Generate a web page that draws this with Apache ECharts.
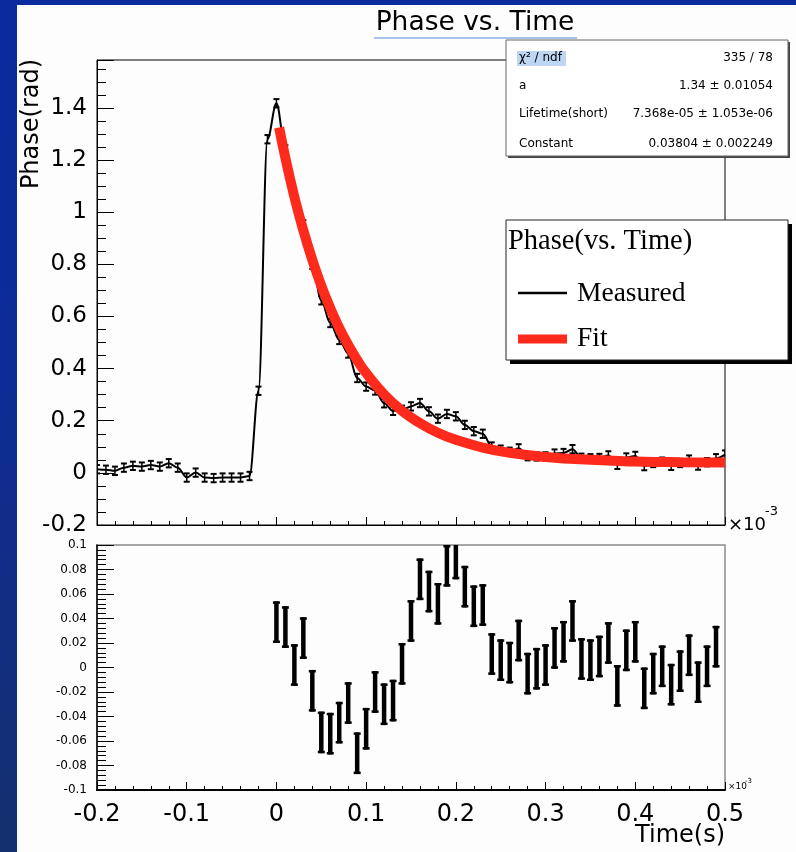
<!DOCTYPE html>
<html><head><meta charset="utf-8">
<script src="https://cdn.jsdelivr.net/npm/echarts@6/dist/echarts.min.js"></script>
<style>
html,body{margin:0;padding:0;}
body{width:796px;height:852px;overflow:hidden;position:relative;background:linear-gradient(to bottom,#0a2a9e 0%,#0d2c96 45%,#15306e 100%);}
#paper{position:absolute;left:17px;top:5px;width:779px;height:847px;background:#fdfdfd;}
#chart{position:absolute;left:0;top:0;width:796px;height:852px;}
</style></head><body><div id="paper"></div><div id="chart"></div>
<script>
// ---- data (time axis in units of 1e-3 s) ----
const tMeas = [-0.20,-0.19,-0.18,-0.17,-0.16,-0.15,-0.14,-0.13,-0.12,-0.11,-0.10,-0.09,-0.08,-0.07,-0.06,-0.05,-0.04,-0.03,-0.02,-0.01,
  0.00,0.01,0.02,0.03,0.04,0.05,0.06,0.07,0.08,0.09,0.10,0.11,0.12,0.13,0.14,0.15,0.16,0.17,0.18,0.19,
  0.20,0.21,0.22,0.23,0.24,0.25,0.26,0.27,0.28,0.29,0.30,0.31,0.32,0.33,0.34,0.35,0.36,0.37,0.38,0.39,
  0.40,0.41,0.42,0.43,0.44,0.45,0.46,0.47,0.48,0.49,0.50];
const phaseMeas = [0.014,0.012,0.008,0.020,0.027,0.024,0.030,0.024,0.037,0.020,-0.018,0.001,-0.018,-0.020,-0.018,-0.018,-0.018,-0.012,0.315,1.280,
  1.418,1.241,1.061,0.954,0.798,0.662,0.575,0.510,0.458,0.364,0.331,0.316,0.267,0.238,0.242,0.255,0.268,0.236,0.208,0.226,
  0.217,0.184,0.160,0.150,0.101,0.089,0.081,0.094,0.064,0.063,0.063,0.074,0.076,0.091,0.058,0.056,0.057,0.067,0.031,0.059,
  0.065,0.026,0.038,0.043,0.027,0.038,0.051,0.028,0.041,0.056,0.070];
const errMeas = 0.016;

const tFit = [0.003,0.01,0.02,0.03,0.04,0.05,0.06,0.07,0.08,0.09,0.10,0.12,0.14,0.16,0.18,0.20,0.23,0.26,0.30,0.35,0.40,0.45,0.50];
const phaseFit = [1.325,1.208,1.059,0.930,0.817,0.718,0.632,0.556,0.491,0.433,0.383,0.301,0.238,0.191,0.154,0.127,0.097,0.077,0.061,0.050,0.044,0.041,0.040];

const tRes = [0.00,0.01,0.02,0.03,0.04,0.05,0.06,0.07,0.08,0.09,0.10,0.11,0.12,0.13,0.14,0.15,0.16,0.17,0.18,0.19,
  0.20,0.21,0.22,0.23,0.24,0.25,0.26,0.27,0.28,0.29,0.30,0.31,0.32,0.33,0.34,0.35,0.36,0.37,0.38,0.39,
  0.40,0.41,0.42,0.43,0.44,0.45,0.46,0.47,0.48,0.49];
const residual = [0.037,0.033,0.002,0.024,-0.019,-0.053,-0.054,-0.045,-0.029,-0.070,-0.050,-0.020,-0.030,-0.027,0.003,0.038,0.072,0.062,0.052,0.083,
  0.089,0.066,0.050,0.051,0.011,0.006,0.004,0.022,-0.005,-0.001,0.002,0.016,0.021,0.038,0.007,0.006,0.009,0.020,-0.015,0.014,
  0.021,-0.017,-0.005,0.001,-0.014,-0.003,0.010,-0.012,0.001,0.017];
const errRes = 0.017;

const statLabels = ['χ² / ndf', 'a', 'Lifetime(short)', 'Constant'];
const statValues = ['335 / 78', '1.34 ± 0.01054', '7.368e-05 ± 1.053e-06', '0.03804 ± 0.002249'];

// ---- options ----
const SANS = '"DejaVu Sans", sans-serif';
const SERIF = '"Liberation Serif", "DejaVu Serif", serif';

const measLine = tMeas.map((t, i) => [t, phaseMeas[i]]);
const measErr = tMeas.map((t, i) => [t, phaseMeas[i], phaseMeas[i] - errMeas, phaseMeas[i] + errMeas]);
const fitLine = tFit.map((t, i) => [t, phaseFit[i]]);
const resErr = tRes.map((t, i) => [t, residual[i], residual[i] - errRes, residual[i] + errRes]);

function txt(text, x, y, size, opts) {
  opts = opts || {};
  return {
    type: 'text', z: 110, x: x, y: y, rotation: opts.rotation || 0,
    style: {
      text: text, x: 0, y: 0,
      font: (opts.weight || 'normal') + ' ' + size + 'px ' + (opts.family || SANS),
      fill: opts.fill || '#000',
      align: opts.align || 'left', textAlign: opts.align || 'left',
      verticalAlign: 'middle', textVerticalAlign: 'middle'
    }
  };
}

const statRowsY = [58, 86, 114, 144];
const graphics = [
  // title + its light highlight underline
  { type: 'line', z: 105, shape: { x1: 374, y1: 38, x2: 577, y2: 38 }, style: { stroke: '#a6c4ea', lineWidth: 2 } },
  txt('Phase vs. Time', 475, 23, 26.5, { align: 'center' }),
  // axis titles
  txt('Phase(rad)', 32, 124, 24, { align: 'center', rotation: Math.PI / 2 }),
  txt('Time(s)', 725, 836, 24, { align: 'right' }),
  txt('×10', 728, 525, 18),
  txt('-3', 765, 512, 13),
  txt('×10', 728, 787, 9),
  txt('-3', 745, 781, 7),
  // stats box
  { type: 'rect', z: 104, shape: { x: 508, y: 42, width: 282, height: 116 }, style: { fill: '#444' } },
  { type: 'rect', z: 105, shape: { x: 506, y: 40, width: 282, height: 116 }, style: { fill: '#fff', stroke: '#666', lineWidth: 1 } },
  { type: 'rect', z: 106, shape: { x: 517, y: 51, width: 49, height: 15 }, style: { fill: '#bdd6f2' } }
];
statLabels.forEach((s, i) => {
  graphics.push(txt(s, 519, statRowsY[i], 12));
  graphics.push(txt(statValues[i], 773, statRowsY[i], 12, { align: 'right' }));
});
// legend box
graphics.push(
  { type: 'rect', z: 104, shape: { x: 510, y: 224, width: 282, height: 140 }, style: { fill: '#000' } },
  { type: 'rect', z: 105, shape: { x: 506, y: 220, width: 282, height: 140 }, style: { fill: '#fff', stroke: '#222', lineWidth: 1 } },
  txt('Phase(vs. Time)', 508, 242, 28.5, { family: SERIF }),
  { type: 'line', z: 110, shape: { x1: 518, y1: 293, x2: 567, y2: 293 }, style: { stroke: '#000', lineWidth: 2.5 } },
  txt('Measured', 577, 294, 27.5, { family: SERIF }),
  { type: 'line', z: 110, shape: { x1: 518, y1: 339, x2: 567, y2: 339 }, style: { stroke: '#fe2a1c', lineWidth: 9 } },
  txt('Fit', 577, 339, 27.5, { family: SERIF })
);

const chart = echarts.init(document.getElementById('chart'), null, { renderer: 'canvas' });
chart.setOption({
  backgroundColor: 'transparent',
  animation: false,
  grid: [
    { left: 97, top: 60, width: 628, height: 465, show: true, borderColor: '#000', borderWidth: 1, backgroundColor: 'transparent' },
    { left: 97, top: 545, width: 628, height: 245, show: true, borderColor: '#8a8a8a', borderWidth: 1.5, backgroundColor: 'transparent' }
  ],
  xAxis: [
    { type: 'value', gridIndex: 0, min: -0.2, max: 0.5, interval: 0.1,
      axisLine: { show: true, onZero: false, lineStyle: { color: '#000', width: 1 } },
      axisTick: { show: true, inside: true, length: 8, lineStyle: { color: '#000' } },
      minorTick: { show: true, splitNumber: 5, length: 4, lineStyle: { color: '#000' } },
      axisLabel: { show: false }, splitLine: { show: false } },
    { type: 'value', gridIndex: 1, min: -0.2, max: 0.5, interval: 0.1,
      axisLine: { show: true, onZero: false, lineStyle: { color: '#000', width: 2 } },
      axisTick: { show: true, inside: true, length: 8, lineStyle: { color: '#000' } },
      minorTick: { show: true, splitNumber: 5, length: 4, lineStyle: { color: '#000' } },
      axisLabel: { show: true, margin: 13, color: '#000', fontSize: 24, fontFamily: SANS },
      splitLine: { show: false } }
  ],
  yAxis: [
    { type: 'value', gridIndex: 0, min: -0.2, max: 1.584, interval: 0.2,
      axisLine: { show: true, onZero: false, lineStyle: { color: '#000', width: 1 } },
      axisTick: { show: true, inside: true, length: 17, lineStyle: { color: '#000' } },
      minorTick: { show: true, splitNumber: 4, length: 9, lineStyle: { color: '#000' } },
      axisLabel: { show: true, margin: 10, color: '#000', fontSize: 23, fontFamily: SANS, showMaxLabel: false },
      splitLine: { show: false } },
    { type: 'value', gridIndex: 1, min: -0.1, max: 0.1, interval: 0.02,
      axisLine: { show: true, onZero: false, lineStyle: { color: '#000', width: 1.5 } },
      axisTick: { show: true, inside: true, length: 17, lineStyle: { color: '#000' } },
      minorTick: { show: true, splitNumber: 5, length: 9, lineStyle: { color: '#000' } },
      axisLabel: { show: true, margin: 10, color: '#000', fontSize: 12, fontFamily: SANS },
      splitLine: { show: false } }
  ],
  series: [
    { name: 'Measured', type: 'line', xAxisIndex: 0, yAxisIndex: 0, data: measLine,
      smooth: 0.35, smoothMonotone: 'x', symbol: 'none', clip: true, z: 2,
      lineStyle: { color: '#000', width: 2 } },
    { name: 'Measured errors', type: 'custom', xAxisIndex: 0, yAxisIndex: 0, data: measErr,
      encode: { x: 0, y: [1, 2, 3] }, clip: true, z: 3,
      renderItem: function (params, api) {
        const x = api.value(0);
        const p0 = api.coord([x, api.value(2)]);
        const p1 = api.coord([x, api.value(3)]);
        const cw = 3;
        return { type: 'group', children: [
          { type: 'line', shape: { x1: p0[0], y1: p0[1], x2: p1[0], y2: p1[1] }, style: { stroke: '#000', lineWidth: 1.5 } },
          { type: 'line', shape: { x1: p0[0] - cw, y1: p0[1], x2: p0[0] + cw, y2: p0[1] }, style: { stroke: '#000', lineWidth: 2 } },
          { type: 'line', shape: { x1: p1[0] - cw, y1: p1[1], x2: p1[0] + cw, y2: p1[1] }, style: { stroke: '#000', lineWidth: 2 } }
        ] };
      } },
    { name: 'Fit', type: 'line', xAxisIndex: 0, yAxisIndex: 0, data: fitLine,
      smooth: true, symbol: 'none', clip: true, z: 4,
      lineStyle: { color: '#fe2a1c', width: 10 } },
    { name: 'Residual', type: 'custom', xAxisIndex: 1, yAxisIndex: 1, data: resErr,
      encode: { x: 0, y: [1, 2, 3] }, clip: true, z: 3,
      renderItem: function (params, api) {
        const x = api.value(0);
        const pLo = api.coord([x, api.value(2)]);
        const pHi = api.coord([x, api.value(3)]);
        const w = 4.5, cw = 7, ch = 2.5;
        return { type: 'group', children: [
          { type: 'rect', shape: { x: pHi[0] - w / 2, y: pHi[1], width: w, height: pLo[1] - pHi[1] }, style: { fill: '#000' } },
          { type: 'rect', shape: { x: pHi[0] - cw / 2, y: pHi[1], width: cw, height: ch }, style: { fill: '#000' } },
          { type: 'rect', shape: { x: pLo[0] - cw / 2, y: pLo[1] - ch, width: cw, height: ch }, style: { fill: '#000' } }
        ] };
      } }
  ],
  graphic: { elements: graphics }
});
</script></body></html>
